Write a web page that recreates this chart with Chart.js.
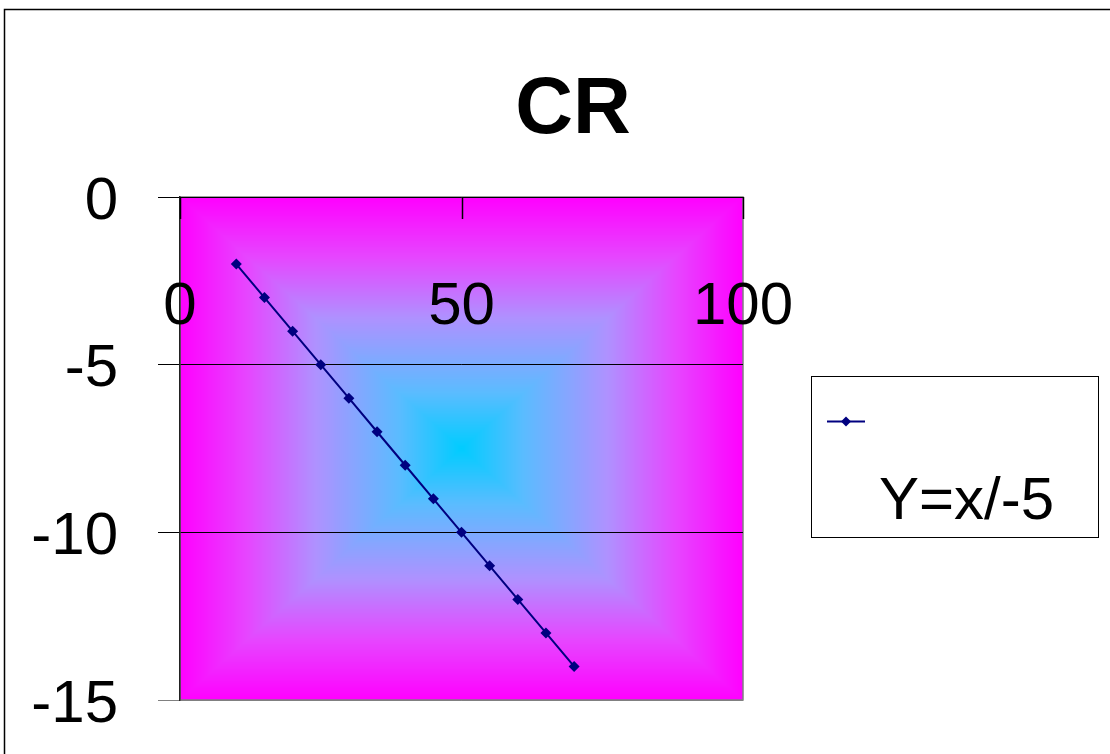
<!DOCTYPE html>
<html>
<head>
<meta charset="utf-8">
<script src="https://cdn.jsdelivr.net/npm/chart.js@4/dist/chart.umd.min.js"></script>
<style>
  html, body { margin: 0; padding: 0; background: #fff; }
  #wrap { width: 1110px; height: 754px; position: relative; }
</style>
</head>
<body>
<div id="wrap"><canvas id="c" width="1110" height="754"></canvas></div>
<script>
// Series: Y = x / -5
const xValues = [10, 15, 20, 25, 30, 35, 40, 45, 50, 55, 60, 65, 70];
const yValues = [-2, -3, -4, -5, -6, -7, -8, -9, -10, -11, -12, -13, -14];
const seriesName = 'Y=x/-5';
const chartTitle = 'CR';
const xTicks = [0, 50, 100];
const yTicks = [0, -5, -10, -15];

const FONT = '"Liberation Sans", Arial, sans-serif';
const NAVY = '#000080';

// Rectangular "from centre" fill: magenta at the edges, cyan in the middle
const fillStops = [
  [0.00, [255, 0, 255]],
  [0.24, [230, 70, 255]],
  [0.48, [175, 145, 255]],
  [0.78, [90, 188, 255]],
  [1.00, [0, 204, 255]]
];

function fillColor(t) {
  for (let i = 1; i < fillStops.length; i++) {
    const [o1, c1] = fillStops[i];
    const [o0, c0] = fillStops[i - 1];
    if (t <= o1) {
      const f = (t - o0) / (o1 - o0);
      return [0, 1, 2].map(k => c0[k] + (c1[k] - c0[k]) * f);
    }
  }
  return fillStops[fillStops.length - 1][1];
}

const plotFill = {
  id: 'plotFill',
  beforeDraw(chart) {
    const { ctx, chartArea: a } = chart;
    const x0 = Math.round(a.left), y0 = Math.round(a.top);
    const w = Math.round(a.right) - x0, h = Math.round(a.bottom) - y0;
    const hw = w / 2, hh = h / 2;
    const img = ctx.createImageData(w, h);
    for (let j = 0; j < h; j++) {
      const dy = Math.abs(j + 0.5 - hh) / hh;
      for (let i = 0; i < w; i++) {
        const dx = Math.abs(i + 0.5 - hw) / hw;
        const t = 1 - Math.max(dx, dy);
        const c = fillColor(Math.max(0, t));
        const p = (j * w + i) * 4;
        img.data[p] = c[0]; img.data[p + 1] = c[1]; img.data[p + 2] = c[2]; img.data[p + 3] = 255;
      }
    }
    ctx.putImageData(img, x0, y0);
    ctx.save();
    // outer chart frame
    ctx.strokeStyle = '#000';
    ctx.lineWidth = 1.5;
    ctx.strokeRect(4.5, 9.5, chart.width + 50, chart.height + 50);
    // plot-area frame
    ctx.strokeStyle = '#808080';
    ctx.lineWidth = 1.5;
    ctx.strokeRect(a.left, a.top, a.right - a.left, a.bottom - a.top);
    // title
    ctx.fillStyle = '#000';
    ctx.font = 'bold 80px ' + FONT;
    ctx.textAlign = 'center';
    ctx.textBaseline = 'alphabetic';
    ctx.fillText(chartTitle, 573, 133);
    ctx.restore();
  }
};

const xAxisDecor = {
  id: 'xAxisDecor',
  afterDatasetsDraw(chart) {
    const { ctx } = chart;
    const xs = chart.scales.x, ys = chart.scales.y;
    const yAxis = ys.getPixelForValue(0);
    ctx.save();
    ctx.strokeStyle = '#000';
    ctx.lineWidth = 1.5;
    xTicks.forEach(v => {
      const px = Math.round(xs.getPixelForValue(v)) + 0.5;
      ctx.beginPath();
      ctx.moveTo(px, yAxis);
      ctx.lineTo(px, yAxis + 22);
      ctx.stroke();
    });
    ctx.fillStyle = '#000';
    ctx.font = '60px ' + FONT;
    ctx.textAlign = 'center';
    ctx.textBaseline = 'middle';
    xTicks.forEach(v => {
      ctx.fillText(String(v), xs.getPixelForValue(v), yAxis + 110);
    });
    ctx.restore();
  }
};

const legendBox = {
  id: 'legendBox',
  afterDraw(chart) {
    const { ctx } = chart;
    const ds = chart.data.datasets[0];
    const bx = 811, by = 376, bw = 287, bh = 161;
    ctx.save();
    ctx.fillStyle = '#fff';
    ctx.fillRect(bx, by, bw, bh);
    ctx.strokeStyle = '#000';
    ctx.lineWidth = 1;
    ctx.strokeRect(bx + 0.5, by + 0.5, bw, bh);
    const ly = by + 45.5;
    ctx.strokeStyle = ds.borderColor;
    ctx.lineWidth = 2;
    ctx.beginPath();
    ctx.moveTo(bx + 16, ly);
    ctx.lineTo(bx + 54, ly);
    ctx.stroke();
    ctx.fillStyle = ds.backgroundColor;
    ctx.beginPath();
    const mx = bx + 35;
    ctx.moveTo(mx, ly - 5); ctx.lineTo(mx + 5, ly); ctx.lineTo(mx, ly + 5); ctx.lineTo(mx - 5, ly);
    ctx.closePath();
    ctx.fill();
    ctx.fillStyle = '#000';
    ctx.font = '60px ' + FONT;
    ctx.textAlign = 'left';
    ctx.textBaseline = 'alphabetic';
    ctx.fillText(ds.label, bx + 68, by + 143);
    ctx.restore();
  }
};

new Chart(document.getElementById('c'), {
  type: 'scatter',
  data: {
    datasets: [{
      label: seriesName,
      data: xValues.map((x, i) => ({ x, y: yValues[i] })),
      showLine: true,
      borderColor: NAVY,
      backgroundColor: NAVY,
      borderWidth: 2,
      pointStyle: 'rectRot',
      pointRadius: 5.5,
      pointHoverRadius: 5.5,
      pointBorderWidth: 0
    }]
  },
  options: {
    responsive: false,
    animation: false,
    events: [],
    layout: { padding: { left: 0, top: 197, right: 367, bottom: 54 } },
    plugins: {
      legend: { display: false },
      tooltip: { enabled: false },
      title: { display: false }
    },
    scales: {
      x: {
        type: 'linear',
        display: false,
        min: 0, max: 100,
        ticks: { stepSize: 50 }
      },
      y: {
        type: 'linear',
        min: -15, max: 0,
        afterFit(scale) {
          scale.width = 180;
          scale.paddingTop = 0;
          scale.paddingBottom = 0;
        },
        afterBuildTicks(scale) { scale.ticks = yTicks.map(v => ({ value: v })); },
        border: { display: true, color: '#222', width: 1.5 },
        grid: {
          color: c => (c.tick && c.tick.value === -15) ? '#808080' : '#000',
          lineWidth: 1,
          tickLength: 22,
          drawTicks: true
        },
        ticks: {
          color: '#000',
          font: { family: FONT, size: 60 },
          padding: 40,
          labelOffset: 5,
          callback: v => String(v)
        }
      }
    }
  },
  plugins: [plotFill, xAxisDecor, legendBox]
});
</script>
</body>
</html>
